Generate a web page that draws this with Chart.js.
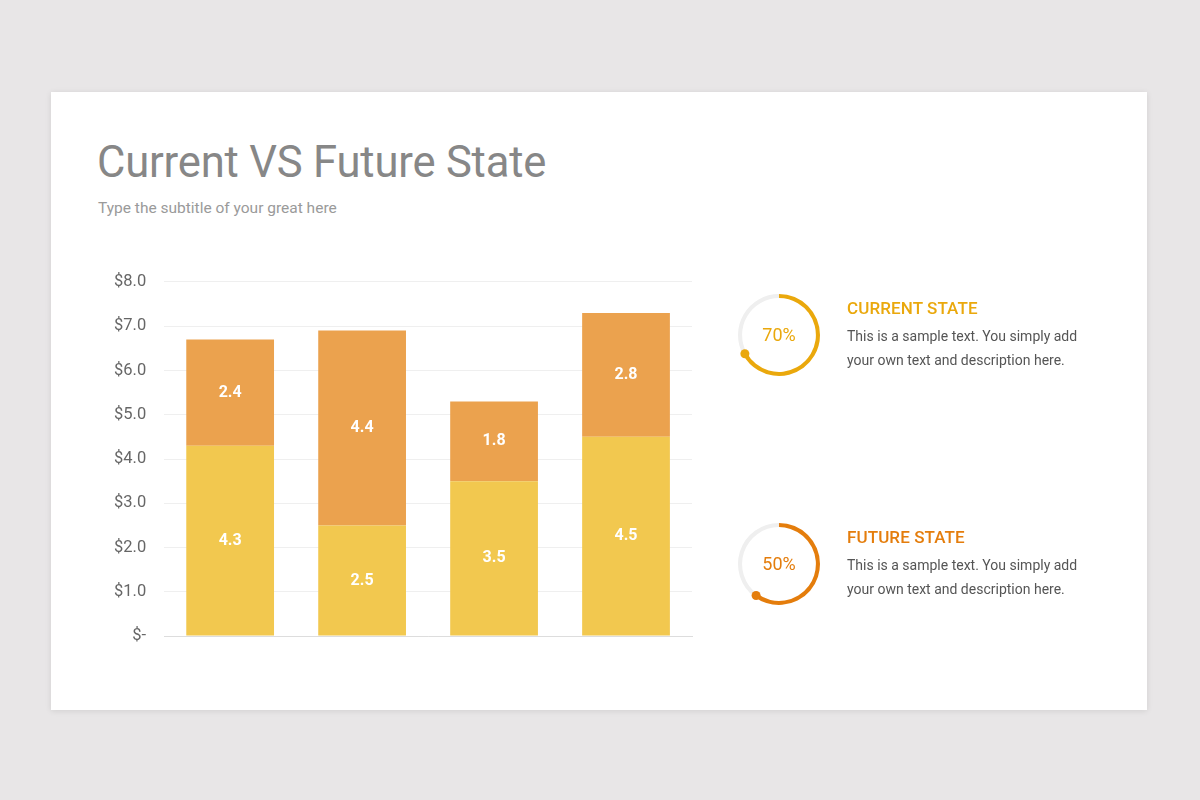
<!DOCTYPE html>
<html>
<head>
<meta charset="utf-8">
<script src="https://cdn.jsdelivr.net/npm/chart.js"></script>
<style>
  html, body { margin: 0; padding: 0; }
  body { width: 1200px; height: 800px; background: #e8e6e7; font-family: Roboto, "Open Sans", sans-serif; position: relative; overflow: hidden; }
  .card { position: absolute; left: 51px; top: 92px; width: 1096px; height: 618px; background: #fff; box-shadow: 0 1px 6px rgba(0,0,0,0.10); }
  h1 { position: absolute; left: 97px; top: 137px; margin: 0; font-size: 43.6px; font-weight: 400; color: #878787; letter-spacing: -0.2px; line-height: 52px; }
  .subtitle { position: absolute; left: 98px; top: 199px; font-size: 15.5px; color: #9a9a9a; }
  #bar-wrap { position: absolute; left: 96px; top: 254px; width: 604px; height: 410px; }
  .donut { position: absolute; width: 90px; height: 90px; }
  .donut .pct { position: absolute; left: 0; top: 0; width: 90px; line-height: 90px; text-align: center; font-size: 18px; }
  .info { position: absolute; left: 847px; width: 260px; }
  .info h3 { margin: 0 0 6px 0; font-size: 17px; font-weight: 500; letter-spacing: 0.1px; }
  .info p { margin: 0; font-size: 14px; line-height: 24px; color: #555; }
</style>
</head>
<body>
<div class="card"></div>
<h1>Current VS Future State</h1>
<div class="subtitle">Type the subtitle of your great here</div>
<div id="bar-wrap"><canvas id="bar-chart"></canvas></div>

<div class="donut" style="left:734px; top:290px;"><canvas id="donut-0"></canvas><div class="pct" id="pct-0"></div></div>
<div class="info" style="top:298px;"><h3 id="head-0"></h3><p id="text-0"></p></div>

<div class="donut" style="left:734px; top:519px;"><canvas id="donut-1"></canvas><div class="pct" id="pct-1"></div></div>
<div class="info" style="top:527px;"><h3 id="head-1"></h3><p id="text-1"></p></div>

<script>
const categories = ['Item 1', 'Item 2', 'Item 3', 'Item 4'];
const lowerValues = [4.3, 2.5, 3.5, 4.5];
const upperValues = [2.4, 4.4, 1.8, 2.8];
const yTicks = ['$-', '$1.0', '$2.0', '$3.0', '$4.0', '$5.0', '$6.0', '$7.0', '$8.0'];

const stateNames = ['CURRENT STATE', 'FUTURE STATE'];
const stateLabels = ['70%', '50%'];
const stateArcs = [67, 60];   // how far each ring is drawn in the picture
const stateColors = ['#eaa80c', '#e47d0c'];
const stateText = 'This is a sample text. You simply add your own text and description here.';

// white numbers in the middle of each bar segment
const barLabels = {
  id: 'barLabels',
  afterDatasetsDraw(chart) {
    const ctx = chart.ctx;
    ctx.save();
    ctx.fillStyle = '#fff';
    ctx.font = 'bold 16px Roboto';
    ctx.textAlign = 'center';
    ctx.textBaseline = 'middle';
    chart.data.datasets.forEach((ds, i) => {
      chart.getDatasetMeta(i).data.forEach((bar, j) => {
        const mid = (bar.y + bar.base) / 2;
        ctx.fillText(ds.data[j].toFixed(1), bar.x, mid);
      });
    });
    ctx.restore();
  }
};

new Chart(document.getElementById('bar-chart'), {
  type: 'bar',
  data: {
    labels: categories,
    datasets: [
      { data: lowerValues, backgroundColor: '#f2c84f', borderWidth: 0 },
      { data: upperValues, backgroundColor: '#eba24e', borderWidth: 0 }
    ]
  },
  options: {
    responsive: true,
    maintainAspectRatio: false,
    animation: false,
    categoryPercentage: 1,
    barPercentage: 0.665,
    layout: { padding: { top: 0, right: 8, bottom: 0, left: 0 } },
    plugins: { legend: { display: false }, tooltip: { enabled: false } },
    scales: {
      x: {
        stacked: true,
        grid: { display: false },
        border: { color: '#dddddd', width: 1 },
        ticks: { display: false }
      },
      y: {
        stacked: true,
        min: 0,
        max: 8,
        ticks: {
          stepSize: 1,
          padding: 18,
          color: '#666',
          font: { family: 'Roboto', size: 16.5 },
          callback: (v, i) => yTicks[i]
        },
        grid: { color: '#efefef', drawTicks: false },
        border: { display: false }
      }
    }
  },
  plugins: [barLabels]
});

// round dot at the end of the coloured arc
const endDot = {
  id: 'endDot',
  afterDatasetsDraw(chart) {
    const arc = chart.getDatasetMeta(0).data[0];
    const r = (arc.innerRadius + arc.outerRadius) / 2;
    const ctx = chart.ctx;
    ctx.save();
    ctx.fillStyle = chart.data.datasets[0].backgroundColor[0];
    ctx.beginPath();
    ctx.arc(arc.x + Math.cos(arc.endAngle) * r, arc.y + Math.sin(arc.endAngle) * r, 4.5, 0, Math.PI * 2);
    ctx.fill();
    ctx.restore();
  }
};

stateNames.forEach((name, i) => {
  document.getElementById('pct-' + i).textContent = stateLabels[i];
  document.getElementById('pct-' + i).style.color = stateColors[i];
  document.getElementById('head-' + i).textContent = name;
  document.getElementById('head-' + i).style.color = stateColors[i];
  document.getElementById('text-' + i).textContent = stateText;

  new Chart(document.getElementById('donut-' + i), {
    type: 'doughnut',
    data: {
      labels: ['done', 'rest'],
      datasets: [{
        data: [stateArcs[i], 100 - stateArcs[i]],
        backgroundColor: [stateColors[i], '#efefef'],
        borderWidth: 0
      }]
    },
    options: {
      responsive: true,
      maintainAspectRatio: false,
      animation: false,
      cutout: '90%',
      layout: { padding: 4 },
      plugins: { legend: { display: false }, tooltip: { enabled: false } }
    },
    plugins: [endDot]
  });
});
</script>
</body>
</html>
